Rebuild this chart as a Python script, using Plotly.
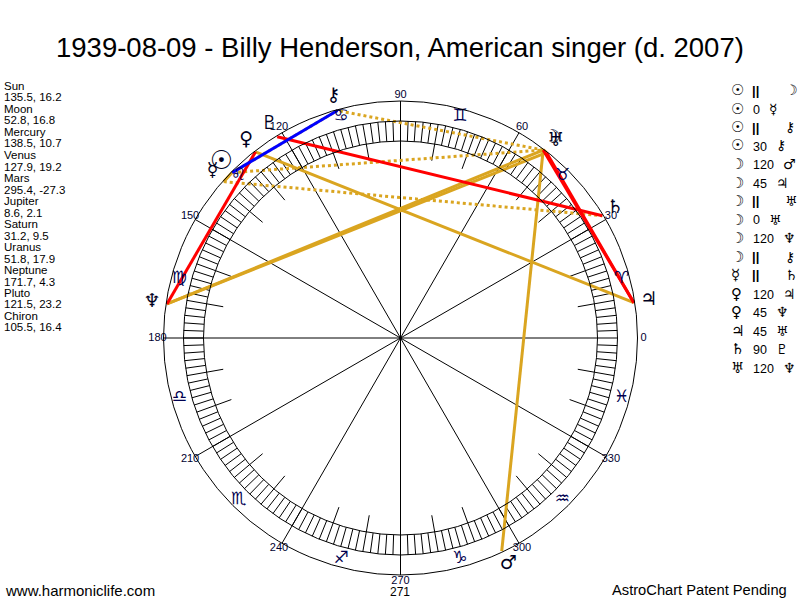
import numpy as np
import plotly.graph_objects as go

title = "1939-08-09 - Billy Henderson, American singer (d. 2007)"

# planets: ecliptic longitude, declination
planets = ["Sun", "Moon", "Mercury", "Venus", "Mars", "Jupiter", "Saturn",
           "Uranus", "Neptune", "Pluto", "Chiron"]
glyphs = ["☉", "☽", "☿", "♀", "♂", "♃", "♄", "♅", "♆", "♇", "⚷"]
longitude = [135.5, 52.8, 138.5, 127.9, 295.4, 8.6, 31.2, 51.8, 171.7, 121.5, 105.5]
declination = [16.2, 16.8, 10.7, 19.2, -27.3, 2.1, 9.5, 17.9, 4.3, 23.2, 16.4]

signs = ["♈", "♉", "♊", "♋", "♌", "♍", "♎", "♏", "♐", "♑", "♒", "♓"]
degree_labels = [0, 30, 60, 90, 120, 150, 180, 210, 240, 270, 300, 330]

# aspects (from, kind, to)
asp_from = ["Sun", "Sun", "Sun", "Sun", "Moon", "Moon", "Moon", "Moon",
            "Moon", "Moon", "Mercury", "Venus", "Venus", "Jupiter", "Saturn", "Uranus"]
asp_kind = ["||", "0", "||", "30", "120", "45", "||", "0",
            "120", "||", "||", "120", "45", "45", "90", "120"]
asp_to = ["Moon", "Mercury", "Chiron", "Chiron", "Mars", "Jupiter", "Uranus", "Uranus",
          "Neptune", "Chiron", "Saturn", "Jupiter", "Neptune", "Uranus", "Pluto", "Neptune"]

GOLD = "#DAA520"
RED = "#FF0000"
BLUE = "#0000FF"
kind_style = {"0": (GOLD, "solid"), "120": (GOLD, "solid"), "45": (RED, "solid"),
              "90": (RED, "solid"), "30": (BLUE, "solid"), "||": (GOLD, "dot")}

# wheel geometry (pixels), centre of the wheel
CX, CY = 400.5, 338
R_OUT = 237
R_RING_O = 217
R_RING_I = 197
R_LONG = 180
R_SIGN = 229
R_LABEL = 243
R_GLYPH = 251


def pol(r, deg):
    a = np.radians(deg)
    return r * np.cos(a), r * np.sin(a)


def segs(pairs):
    xs, ys = [], []
    for (r0, a0), (r1, a1) in pairs:
        x0, y0 = pol(r0, a0)
        x1, y1 = pol(r1, a1)
        xs += [x0, x1, None]
        ys += [y0, y1, None]
    return xs, ys


fig = go.Figure()

# circles
for r in [R_OUT, R_RING_O, R_RING_I]:
    fig.add_shape(type="circle", xref="x", yref="y", x0=-r, y0=-r, x1=r, y1=r,
                  line=dict(color="black", width=1))

# degree ticks in the ring, longer ticks every 10, spokes every 30
tick_pairs = [((R_RING_I, d), (R_RING_O, d)) for d in range(0, 360, 2)]
tick_pairs += [((R_LONG, d), (R_RING_I, d)) for d in range(0, 360, 10) if d % 30]
tick_pairs += [((0, d), (R_RING_I if d == 0 else R_OUT, d)) for d in range(0, 360, 30)]
tx, ty = segs(tick_pairs)
fig.add_trace(go.Scatter(x=tx, y=ty, mode="lines", line=dict(color="black", width=1),
                         hoverinfo="skip", showlegend=False))

# aspect lines
lon = dict(zip(planets, longitude))
for kind_group in [("||",), ("0", "120"), ("45", "90"), ("30",)]:
    pairs = [((R_OUT - 1, lon[a]), (R_OUT - 1, lon[b]))
             for a, k, b in zip(asp_from, asp_kind, asp_to) if k in kind_group]
    color, dash = kind_style[kind_group[0]]
    ax, ay = segs(pairs)
    fig.add_trace(go.Scatter(x=ax, y=ay, mode="lines",
                             line=dict(color=color, width=3, dash=dash),
                             hoverinfo="skip", showlegend=False))

# zodiac signs
sx, sy = pol(R_SIGN, np.arange(12) * 30 + 15)
fig.add_trace(go.Scatter(x=sx, y=sy, mode="text", text=signs,
                         textfont=dict(family="DejaVu Sans", size=17, color="#000050"),
                         hoverinfo="skip", showlegend=False))

# degree numbers
lx, ly = pol(R_LABEL, np.array(degree_labels))
fig.add_trace(go.Scatter(x=lx, y=ly, mode="text", text=[str(d) for d in degree_labels],
                         textfont=dict(family="Liberation Sans", size=11, color="#000030"),
                         hoverinfo="skip", showlegend=False))

# planet glyphs
px_, py_ = pol(R_GLYPH, np.array(longitude))
sizes = [26 if p == "Sun" else 19 for p in planets]
fig.add_trace(go.Scatter(x=px_, y=py_, mode="text", text=glyphs,
                         textfont=dict(family="DejaVu Sans", size=sizes, color="#000020"),
                         hovertext=planets, hoverinfo="text", showlegend=False))


def paper(x, y):
    return x / 800, 1 - y / 600


annotations = []


def add_text(x, y, text, size, anchor="left", family="Liberation Sans", color="black"):
    xp, yp = paper(x, y)
    annotations.append(dict(x=xp, y=yp, xref="paper", yref="paper", text=text,
                            showarrow=False, xanchor=anchor, yanchor="middle",
                            font=dict(family=family, size=size, color=color)))


add_text(400, 47, title, 27.5, anchor="center")
add_text(400, 592, "271", 12, anchor="center")
add_text(3, 590, "www.harmoniclife.com", 15)
add_text(789, 590, "AstroChart Patent Pending", 14.7, anchor="right")

# positions list on the left
for i, (p, lo, de) in enumerate(zip(planets, longitude, declination)):
    add_text(2, 86 + 23 * i, p, 11.5)
    add_text(2, 97.5 + 23 * i, f"{lo}, {de}", 11.5)

# aspect list on the right
g = dict(zip(planets, glyphs))
for i, (a, k, b) in enumerate(zip(asp_from, asp_kind, asp_to)):
    y = 90 + 18.5 * i
    add_text(729, y, "<b>" + g[a] + "</b>", 15, family="DejaVu Sans")
    if k == "||":
        add_text(750, y, "<b>||</b>", 13)
        x2 = 783
    else:
        add_text(751, y + 1, k, 12.5)
        x2 = 751 + 7 * len(k) + 9
    add_text(x2, y, "<b>" + g[b] + "</b>", 14, family="DejaVu Sans")

fig.update_layout(
    width=800, height=600,
    margin=dict(l=0, r=0, t=0, b=0),
    paper_bgcolor="white", plot_bgcolor="white",
    xaxis=dict(range=[-CX, 800 - CX], visible=False, fixedrange=True),
    yaxis=dict(range=[CY - 600, CY], visible=False, fixedrange=True),
    annotations=annotations,
    showlegend=False,
)

fig.write_html("out.html", config={"displayModeBar": False},
               post_script="document.body.style.margin='0';")
